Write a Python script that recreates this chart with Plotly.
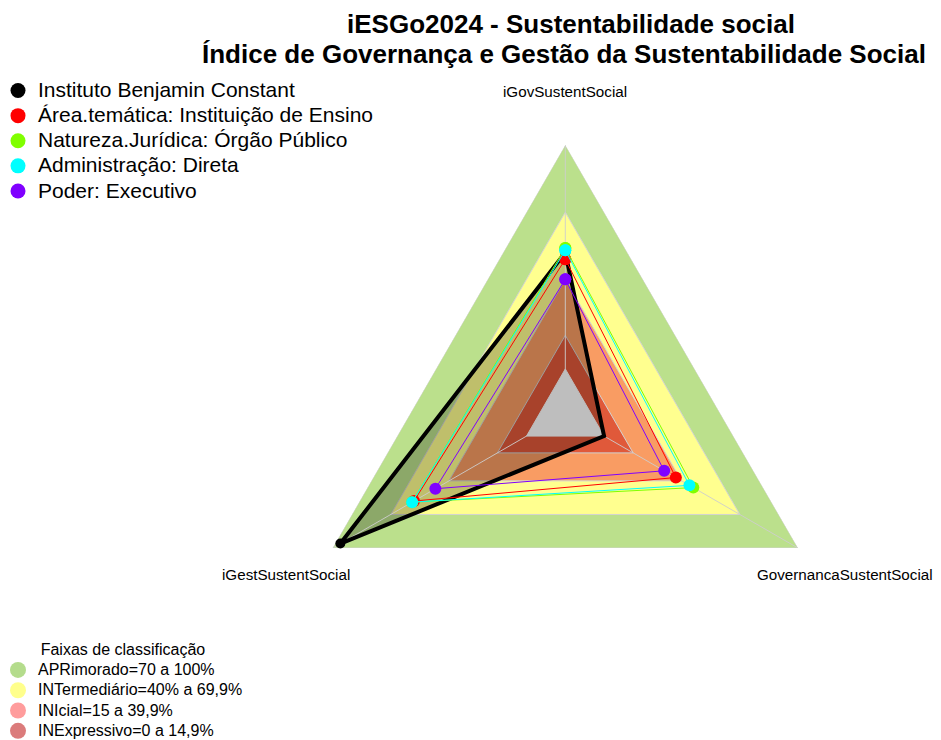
import math
import plotly.graph_objects as go

# eixos do radar (ordem anti-horaria a partir do topo)
eixos = ["iGovSustentSocial", "iGestSustentSocial", "GovernancaSustentSocial"]

# series (valores em %)
series_nomes = ["Instituto Benjamin Constant",
                "Área.temática: Instituição de Ensino",
                "Natureza.Jurídica: Órgão Público",
                "Administração: Direta",
                "Poder: Executivo"]
benjamin = [52, 96, 0]
area_tematica = [49, 58, 37]
natureza = [54, 59, 46]
administracao = [53, 59, 44]
poder = [40, 47, 31]
series_cores = ["#000000", "#FF0000", "#80FF00", "#00FFFF", "#8000FF"]

# faixas de classificacao
faixas_nomes = ["APRimorado=70 a 100%", "INTermediário=40% a 69,9%",
                "INIcial=15 a 39,9%", "INExpressivo=0 a 14,9%"]
faixas_limites = [100, 70, 40, 15]
faixas_cores = ["#BBE08C", "#FFFF8F", "#F99C63", "#E0593A"]
faixas_legenda = ["#B4DC8C", "#FFFF8C", "#FF9C9C", "#DB7B7B"]

# a pagina tem margem de 8px no body
OFF = 8
W, H = 941 - OFF, 740 - OFF
R_MIN, R_MAX = -20, 100

# centro e raio do radar (pixels da janela)
CX, CY, RAIO = 565.3, 413.7, 268.7


def px(sx):
    return (sx - OFF) / W


def py(sy):
    return 1 - (sy - OFF) / H


DOM_X = [px(CX - RAIO), px(CX + RAIO)]
DOM_Y = [py(CY + RAIO), py(CY - RAIO)]


def fechar(v):
    return list(v) + [v[0]]


theta = fechar(eixos)
fig = go.Figure()

# faixas de fundo
for lim, cor in zip(faixas_limites, faixas_cores):
    fig.add_trace(go.Scatterpolar(r=fechar([lim] * 3), theta=theta, mode="lines",
                                  fill="toself", fillcolor=cor,
                                  line=dict(color="#D3D3D3", width=1),
                                  showlegend=False, hoverinfo="skip"))

# preenchimento da instituicao
fig.add_trace(go.Scatterpolar(r=fechar(benjamin), theta=theta, mode="lines",
                              fill="toself", fillcolor="rgba(0,0,0,0.25)",
                              line=dict(width=0, color="rgba(0,0,0,0)"),
                              showlegend=False, hoverinfo="skip"))

# raios dos eixos
raios_r, raios_t = [], []
for e in eixos:
    raios_r += [R_MIN, R_MAX, None]
    raios_t += [e, e, None]
fig.add_trace(go.Scatterpolar(r=raios_r, theta=raios_t, mode="lines",
                              line=dict(color="rgba(205,205,205,0.9)", width=1),
                              showlegend=False, hoverinfo="skip"))

# centro (valor 0)
fig.add_trace(go.Scatterpolar(r=fechar([0] * 3), theta=theta, mode="lines",
                              fill="toself", fillcolor="#BEBEBE",
                              line=dict(color="#BEBEBE", width=1),
                              showlegend=False, hoverinfo="skip"))

# series
valores = [benjamin, area_tematica, natureza, administracao, poder]
for i, (nome, vals, cor) in enumerate(zip(series_nomes, valores, series_cores)):
    grossa = i == 0
    fig.add_trace(go.Scatterpolar(r=fechar(vals), theta=theta, mode="lines+markers",
                                  name=nome,
                                  line=dict(color=cor, width=4 if grossa else 1),
                                  marker=dict(color=cor, size=10 if grossa else 12),
                                  showlegend=False))
    fig.add_trace(go.Scatterpolar(r=[None], theta=[eixos[0]], mode="markers",
                                  name='<span style="font-size:21px">%s</span>' % nome,
                                  marker=dict(color=cor, size=15), legend="legend"))

# legenda das faixas
for nome, cor in zip(faixas_nomes, faixas_legenda):
    fig.add_trace(go.Scatterpolar(r=[None], theta=[eixos[0]], mode="markers",
                                  name='<span style="font-size:16px">%s</span>' % nome,
                                  marker=dict(color=cor, size=16), legend="legend2"))

# rotulos dos eixos, um pouco alem do raio maximo
rotulos = []
frac = (124 - R_MIN) / (R_MAX - R_MIN)
for k, e in enumerate(eixos):
    ang = math.radians(90 + 120 * k)
    rotulos.append(dict(text=e, x=px(CX + frac * RAIO * math.cos(ang)),
                        y=py(CY - frac * RAIO * math.sin(ang)),
                        xanchor="center", yanchor="middle",
                        xref="paper", yref="paper", showarrow=False,
                        font=dict(size=15.2)))

fig.update_layout(
    width=W, height=H,
    margin=dict(l=0, r=0, t=0, b=0, autoexpand=False),
    paper_bgcolor="white",
    font=dict(family="Liberation Sans, Arial, sans-serif", color="#000000"),
    polar=dict(
        domain=dict(x=DOM_X, y=DOM_Y),
        bgcolor="rgba(0,0,0,0)",
        gridshape="linear",
        radialaxis=dict(range=[R_MIN, R_MAX], visible=False, showgrid=False),
        angularaxis=dict(rotation=90, direction="counterclockwise",
                         showticklabels=False, showgrid=False, showline=False, ticks=""),
    ),
    legend=dict(x=px(-2), xanchor="left", y=py(73), yanchor="top",
                font=dict(size=17), bgcolor="rgba(0,0,0,0)", itemclick=False),
    legend2=dict(x=px(-2), xanchor="left", y=py(634), yanchor="top",
                 font=dict(size=13.3), bgcolor="rgba(0,0,0,0)",
                 title=dict(text="Faixas de classificação", side="top center",
                            font=dict(size=16))),
    annotations=rotulos + [
        dict(text="<b>iESGo2024 - Sustentabilidade social</b>", x=px(571), y=py(24),
             xanchor="center", yanchor="middle",
             xref="paper", yref="paper", showarrow=False, font=dict(size=26)),
        dict(text="<b>Índice de Governança e Gestão da Sustentabilidade Social</b>",
             x=px(564), y=py(54), xanchor="center", yanchor="middle",
             xref="paper", yref="paper", showarrow=False, font=dict(size=26)),
        dict(text="Social", x=px(0), xanchor="left", y=py(9), yanchor="bottom",
             xref="paper", yref="paper", showarrow=False,
             font=dict(size=24, color="#3F6DB8")),
    ],
)

fig.write_html("out.html")
